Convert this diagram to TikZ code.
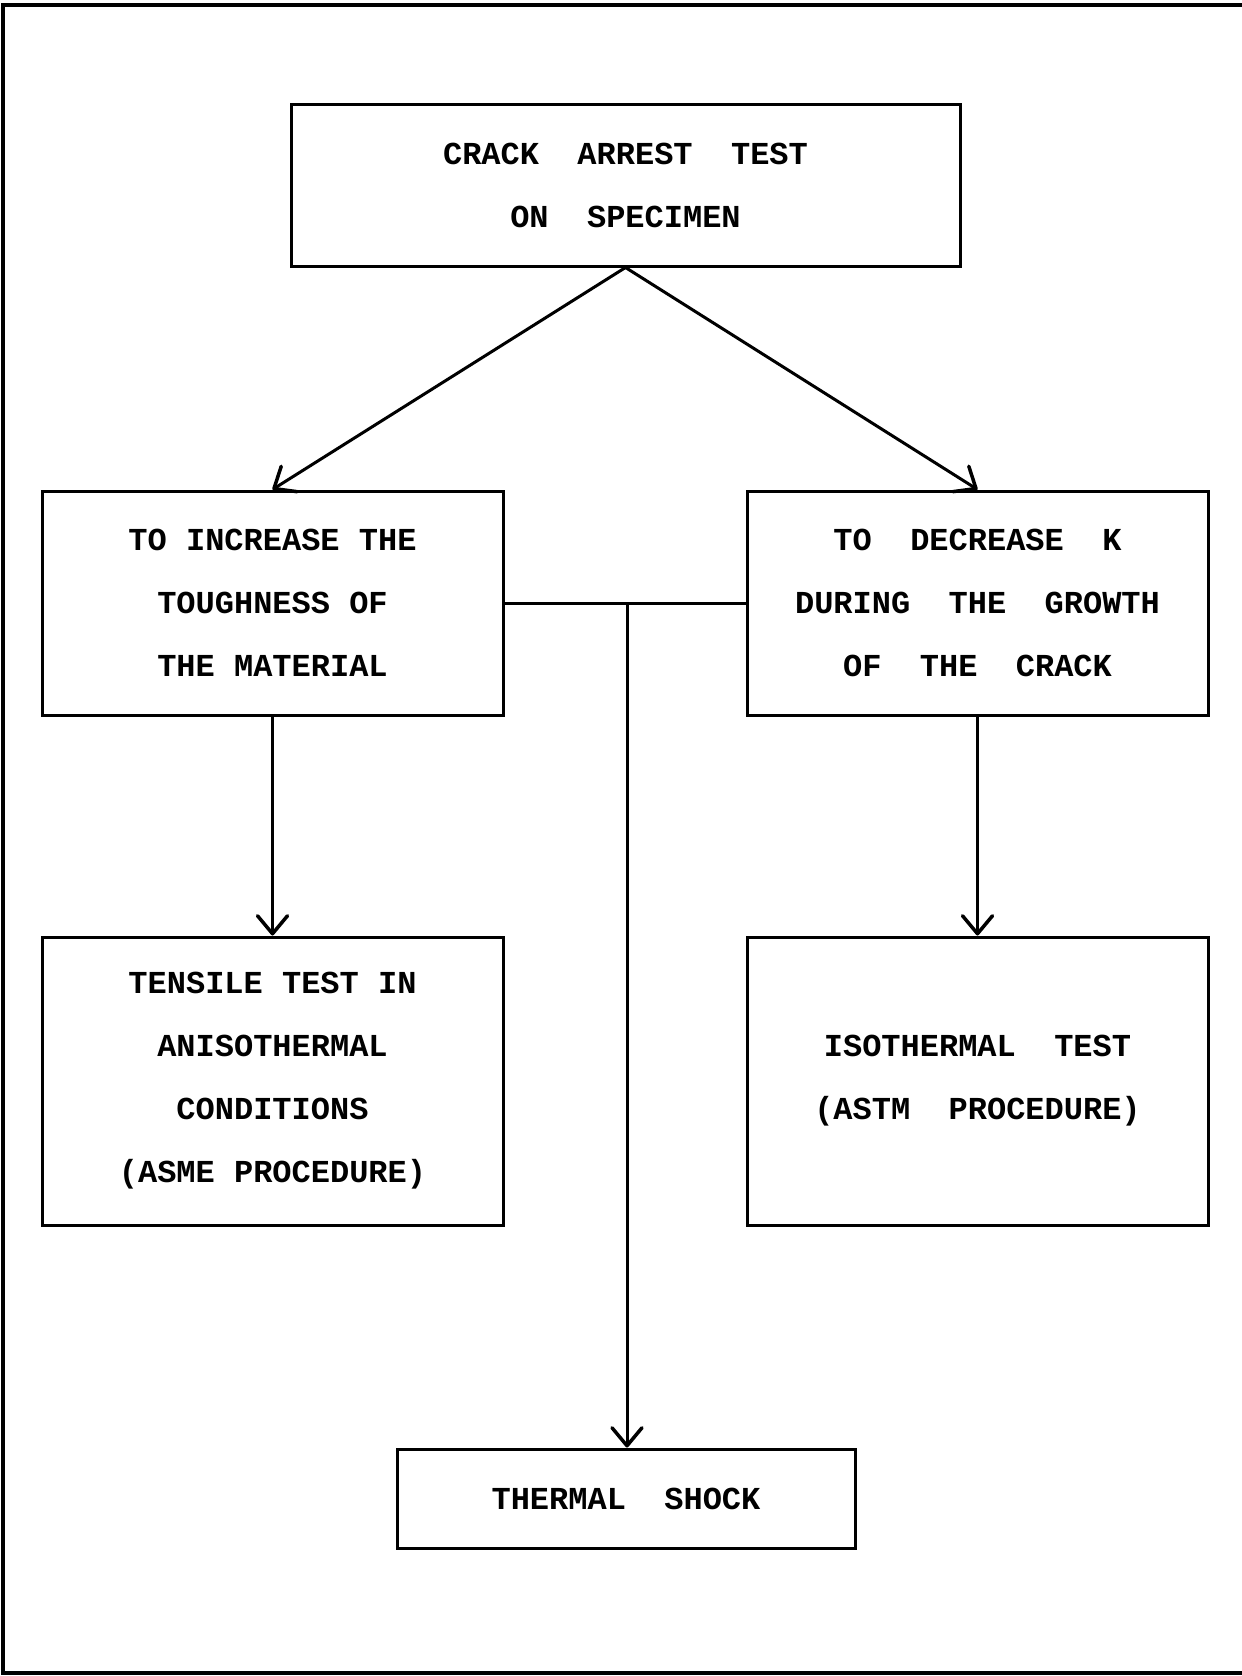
\documentclass[tikz,border=0pt]{standalone}
\usepackage{fontspec}
\setmonofont{Liberation Mono}
\usetikzlibrary{arrows.meta}
\begin{document}
\begin{tikzpicture}[x=1pt,y=-1pt,
  box/.style={draw, line width=3pt, inner sep=0pt, align=center,
    font=\ttfamily\bfseries\fontsize{32}{63}\selectfont},
  conn/.style={line width=3pt},
  arr/.style={conn, -{Straight Barb[length=18pt,width=30pt,line width=3.5pt,round]}}]
\useasboundingbox (0,0) rectangle (1242,1676);
\draw[line width=4pt] (1242,5) -- (3,5) -- (3,1673) -- (1242,1673);
\node[box, minimum width=669pt, minimum height=162pt] (top) at (625.5,185)
  {CRACK~~ARREST~~TEST\\ON~~SPECIMEN};
\node[box, minimum width=461pt, minimum height=224pt] (lm) at (272.5,603)
  {TO INCREASE THE\\TOUGHNESS OF\\THE MATERIAL};
\node[box, minimum width=461pt, minimum height=224pt] (rm) at (977.5,603)
  {TO~~DECREASE~~K\\DURING~~THE~~GROWTH\\OF~~THE~~CRACK};
\node[box, minimum width=461pt, minimum height=288pt] (lb) at (272.5,1081)
  {TENSILE TEST IN\\ANISOTHERMAL\\CONDITIONS\\(ASME PROCEDURE)};
\node[box, minimum width=461pt, minimum height=288pt] (rb) at (977.5,1081)
  {ISOTHERMAL~~TEST\\(ASTM~~PROCEDURE)};
\node[box, minimum width=458pt, minimum height=99pt] (ts) at (626,1498.5)
  {THERMAL~~SHOCK};
\draw[arr] (top.south) -- (lm.north);
\draw[arr] (top.south) -- (rm.north);
\draw[arr] (lm.south) -- (lb.north);
\draw[arr] (rm.south) -- (rb.north);
\draw[conn] (lm.east) -- (rm.west);
\coordinate (j) at (627,603);
\draw[arr] (j) -- (j |- ts.north);
\end{tikzpicture}
\end{document}
